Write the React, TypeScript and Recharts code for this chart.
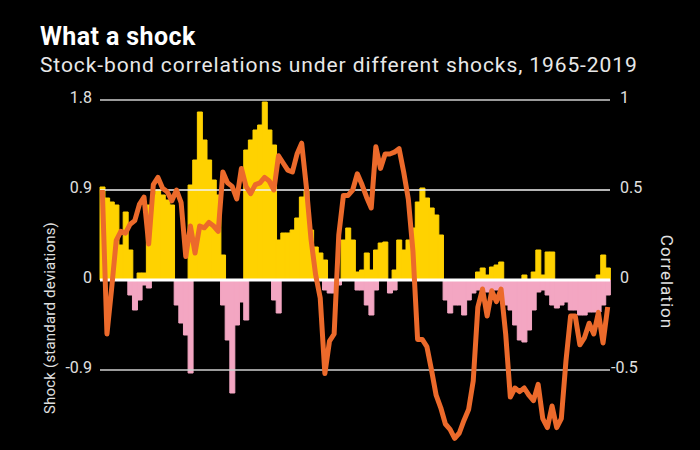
import { ComposedChart, Bar, Line, XAxis, YAxis, ReferenceLine } from "recharts";

// half-year periods, 1965 H1 .. 2019 H2
const periods: string[] = [];
for (let y = 1965; y <= 2019; y++) {
  periods.push(`${y} H1`, `${y} H2`);
}

// shock, standard deviations (yellow above zero)
const shockUp = [
  0.93, 0.82, 0.78, 0.75, 0.35, 0.68, 0.3, 0, 0.07, 0.07,
  0.75, 0.85, 0.9, 0.85, 0.8, 0.75, 0, 0, 0, 0.95,
  1.2, 1.68, 1.4, 1.2, 1.0, 0.85, 0.25, 0, 0, 0,
  0, 1.3, 1.4, 1.5, 1.55, 1.78, 1.5, 1.35, 0.4, 0.47,
  0.47, 0.5, 0.62, 0.83, 0.9, 0.5, 0.33, 0.27, 0.2, 0,
  0, 0, 0.4, 0.52, 0.4, 0.08, 0.1, 0.27, 0.1, 0.3,
  0.37, 0.38, 0, 0.1, 0.4, 0.3, 0.4, 0.52, 0.78, 0.92,
  0.82, 0.72, 0.65, 0.45, 0, 0, 0, 0, 0, 0,
  0, 0.08, 0.12, 0.05, 0.13, 0.15, 0.18, 0, 0, 0,
  0, 0.05, 0, 0.08, 0.3, 0.05, 0.28, 0.28, 0, 0,
  0, 0, 0, 0, 0, 0, 0, 0.05, 0.25, 0.12,
];

// shock, standard deviations (pink below zero)
const shockDown = [
  0, 0, 0, 0, 0, 0, -0.15, -0.3, -0.2, -0.05,
  -0.08, 0, 0, 0, 0, 0, -0.25, -0.43, -0.55, -0.93,
  0, 0, 0, 0, 0, 0, -0.25, -0.6, -1.13, -0.45,
  -0.22, -0.4, 0, 0, 0, 0, 0, -0.2, -0.33, 0,
  0, 0, 0, 0, 0, 0, 0, 0, -0.1, -0.13,
  -0.13, -0.05, 0, 0, 0, -0.1, -0.1, -0.25, -0.35, -0.1,
  0, 0, -0.13, -0.1, 0, 0, 0, 0, 0, 0,
  0, 0, 0, 0, -0.2, -0.33, -0.25, -0.25, -0.35, -0.2,
  -0.13, -0.1, -0.1, -0.12, -0.1, -0.1, -0.15, -0.25, -0.3, -0.45,
  -0.6, -0.62, -0.5, -0.3, -0.12, -0.1, -0.15, -0.25, -0.28, -0.25,
  -0.22, -0.3, -0.3, -0.35, -0.35, -0.32, -0.32, -0.32, -0.25, -0.15,
];

// stock-bond correlation (orange line, right axis)
const correlation = [
  0.5, -0.3, -0.05, 0.22, 0.27, 0.26, 0.31, 0.33, 0.42, 0.46,
  0.2, 0.53, 0.57, 0.51, 0.49, 0.44, 0.5, 0.43, 0.13, 0.3,
  0.15, 0.3, 0.29, 0.32, 0.3, 0.27, 0.6, 0.54, 0.52, 0.45,
  0.62, 0.52, 0.48, 0.53, 0.54, 0.57, 0.55, 0.5, 0.69, 0.65,
  0.61, 0.6, 0.7, 0.76, 0.52, 0.23, 0.03, -0.1, -0.52, -0.34,
  -0.3, 0.25, 0.47, 0.47, 0.5, 0.59, 0.53, 0.46, 0.4, 0.74,
  0.62, 0.7, 0.7, 0.71, 0.73, 0.6, 0.45, 0.16, -0.33, -0.33,
  -0.37, -0.5, -0.64, -0.71, -0.8, -0.83, -0.88, -0.85, -0.78, -0.72,
  -0.56, -0.15, -0.05, -0.2, -0.06, -0.12, -0.05, -0.3, -0.65, -0.6,
  -0.62, -0.6, -0.64, -0.67, -0.58, -0.77, -0.82, -0.7, -0.82, -0.77,
  -0.45, -0.2, -0.2, -0.36, -0.32, -0.24, -0.3, -0.18, -0.35, -0.15,
];

const shockTicks = [-1.8, -0.9, 0, 0.9, 1.8];
const corrTicks = [-1, -0.5, 0, 0.5, 1];

const data = periods.map((p, i) => ({
  period: p,
  up: shockUp[i],
  down: shockDown[i],
  corr: correlation[i],
}));

const FONT = "Roboto, 'Noto Sans', sans-serif";
const YELLOW = "#FFD200";
const PINK = "#F3A6C2";

function LeftTick({ x, y, payload }: any) {
  return (
    <text x={x} y={y - 3} dy="0.35em" textAnchor="end" fill="#e0e0e0" fontSize={16} fontFamily={FONT}>
      {String(payload.value)}
    </text>
  );
}

function RightTick({ x, y, payload }: any) {
  const v = payload.value;
  return (
    <text x={v < 0 ? x - 9 : x} y={y - 3} dy="0.35em" textAnchor="start" fill="#e0e0e0" fontSize={16} fontFamily={FONT}>
      {String(v)}
    </text>
  );
}

export default function App() {
  return (
    <div
      style={{
        position: "absolute",
        left: 0,
        top: 0,
        width: 700,
        height: 450,
        overflow: "hidden",
        background: "#000",
        fontFamily: FONT,
      }}
    >
      <div
        style={{
          position: "absolute",
          left: 40,
          top: 24,
          fontSize: 25,
          fontWeight: 700,
          letterSpacing: 0.4,
          color: "#fff",
          lineHeight: 1,
        }}
      >
        What a shock
      </div>
      <div
        style={{
          position: "absolute",
          left: 40,
          top: 55,
          fontSize: 21,
          letterSpacing: 0.9,
          color: "#e8e8e8",
          lineHeight: 1,
          whiteSpace: "nowrap",
        }}
      >
        Stock-bond correlations under different shocks, 1965-2019
      </div>
      <div
        style={{
          position: "absolute",
          left: 50,
          top: 318,
          transform: "translate(-50%, -50%) rotate(-90deg)",
          whiteSpace: "nowrap",
          fontSize: 15,
          letterSpacing: 0.2,
          color: "#e0e0e0",
        }}
      >
        Shock (standard deviations)
      </div>
      <div
        style={{
          position: "absolute",
          left: 667,
          top: 282,
          transform: "translate(-50%, -50%) rotate(90deg)",
          whiteSpace: "nowrap",
          fontSize: 17,
          letterSpacing: 1,
          color: "#e0e0e0",
        }}
      >
        Correlation
      </div>
      <div style={{ position: "absolute", left: 0, top: 0 }}>
        <ComposedChart
          width={700}
          height={500}
          data={data}
          margin={{ top: 100, right: 30, bottom: 40, left: 40 }}
          barCategoryGap={0}
          barGap={0}
          stackOffset="sign"
        >
          <XAxis dataKey="period" hide />
          <YAxis
            yAxisId="left"
            width={60}
            domain={[-1.8, 1.8]}
            ticks={shockTicks}
            axisLine={false}
            tickLine={false}
            tick={<LeftTick />}
          />
          <YAxis
            yAxisId="right"
            orientation="right"
            width={60}
            domain={[-1, 1]}
            ticks={corrTicks}
            axisLine={false}
            tickLine={false}
            tickMargin={4}
            tick={<RightTick />}
          />
          <ReferenceLine yAxisId="left" y={1.8} stroke="#9a9a9a" strokeWidth={2} />
          <ReferenceLine yAxisId="left" y={0.9} stroke="#f2f2f2" strokeWidth={1.5} />
          <ReferenceLine yAxisId="left" y={-0.9} stroke="#cfcfcf" strokeWidth={1.5} />
          <Bar
            yAxisId="left"
            dataKey="up"
            stackId="s"
            fill={YELLOW}
            stroke={YELLOW}
            strokeWidth={1}
            isAnimationActive={false}
          />
          <Bar
            yAxisId="left"
            dataKey="down"
            stackId="s"
            fill={PINK}
            stroke={PINK}
            strokeWidth={1}
            isAnimationActive={false}
          />
          <ReferenceLine yAxisId="left" y={0} stroke="#ffffff" strokeWidth={3} />
          <Line
            yAxisId="right"
            type="linear"
            dataKey="corr"
            stroke="#EC6A2B"
            strokeWidth={5}
            strokeLinejoin="round"
            dot={false}
            activeDot={false}
            isAnimationActive={false}
          />
        </ComposedChart>
      </div>
    </div>
  );
}
